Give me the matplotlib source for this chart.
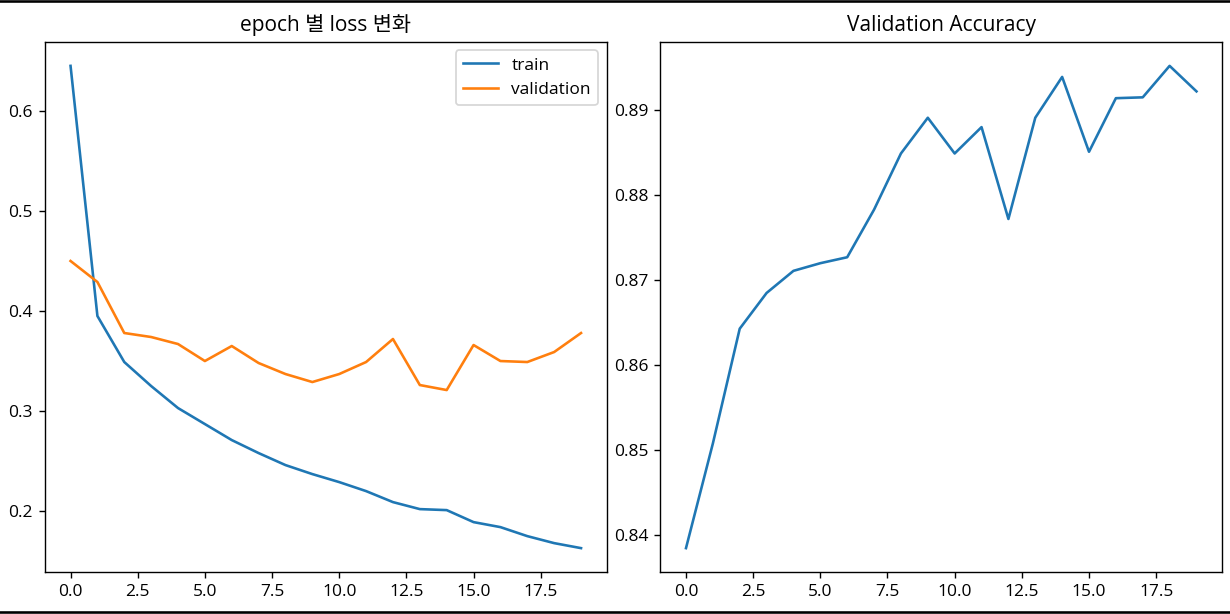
import matplotlib
matplotlib.use("Agg")
import matplotlib.pyplot as plt
from matplotlib.lines import Line2D

plt.rcParams['font.family'] = ['Open Sans', 'Noto Sans CJK KR', 'DejaVu Sans']
plt.rcParams['axes.unicode_minus'] = False

# loss per epoch
epochs = list(range(20))
train_loss = [0.645, 0.395, 0.349, 0.325, 0.303, 0.287, 0.271, 0.258, 0.246, 0.237,
              0.229, 0.220, 0.209, 0.202, 0.201, 0.189, 0.184, 0.175, 0.168, 0.163]
val_loss = [0.450, 0.429, 0.378, 0.374, 0.367, 0.350, 0.365, 0.348, 0.337, 0.329,
            0.337, 0.349, 0.372, 0.326, 0.321, 0.366, 0.350, 0.349, 0.359, 0.378]
val_acc = [0.8385, 0.8508, 0.8643, 0.8685, 0.8711, 0.8720, 0.8727, 0.8783, 0.8849, 0.8891,
           0.8849, 0.8880, 0.8772, 0.8891, 0.8939, 0.8851, 0.8914, 0.8915, 0.8952, 0.8922]

# screenshot looks like a 125% scaled display
dpi = 125
fig, (ax1, ax2) = plt.subplots(1, 2, figsize=(1230 / dpi, 614 / dpi), dpi=dpi)
fig.subplots_adjust(left=0.0366, right=0.9935, bottom=0.068, top=0.932, wspace=0.096)

ax1.plot(epochs, train_loss, label="train")
ax1.plot(epochs, val_loss, label="validation")
ax1.set_title("epoch 별 loss 변화")
ax1.legend(loc="upper right")

ax2.plot(epochs, val_acc)
ax2.set_title("Validation Accuracy")

# black frame lines at top and bottom of the screenshot
fig.add_artist(Line2D([0, 1], [0.999, 0.999], color="black", lw=1.5, transform=fig.transFigure))
fig.add_artist(Line2D([0, 1], [0.003, 0.003], color="black", lw=1.5, transform=fig.transFigure))

plt.savefig("out.png", dpi=dpi)
plt.close()
